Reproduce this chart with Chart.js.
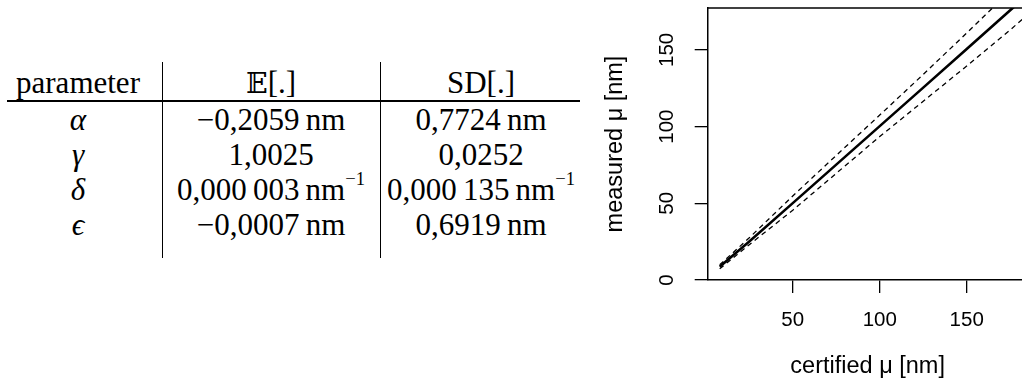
<!DOCTYPE html>
<html>
<head>
<meta charset="utf-8">
<script src="https://cdn.jsdelivr.net/npm/chart.js@4"></script>
<style>
  html, body { margin: 0; padding: 0; background: #fff; overflow: hidden; width: 1022px; height: 385px; }
  #tbl { position: absolute; left: 0; top: 0; width: 590px; height: 385px; }
  .c { position: absolute; transform: translate(-50%, -50%); white-space: nowrap;
       font: 31px "Liberation Serif", "DejaVu Serif", serif; color: #000; }
  .c i { font-style: italic; }
  .c sup { font-size: 0.6em; position: relative; top: -0.2em; }
  .hr { position: absolute; left: 7px; top: 100px; width: 573px; height: 1.5px; background: #000; }
  .vr { position: absolute; top: 62px; width: 1px; height: 196px; background: #000; }
  #wrap { position: absolute; left: 590px; top: 0; width: 440px; height: 385px; }
</style>
</head>
<body>
<div id="tbl">
  <div class="hr"></div>
  <div class="vr" style="left:162px"></div>
  <div class="vr" style="left:380px"></div>
</div>
<div id="wrap"><canvas id="myChart" width="440" height="385"></canvas></div>
<script>
// table content
const headers = ['parameter', '<span style="font-family:\'DejaVu Serif\',serif;font-size:0.92em">𝔼</span>[.]', 'SD[.]']
const params = ['α', 'γ', 'δ', 'ϵ']
const expected = ['−0,2059\u2009nm', '1,0025', '0,000\u2009003\u2009nm<sup>−1</sup>', '−0,0007\u2009nm']
const sds = ['0,7724\u2009nm', '0,0252', '0,000\u2009135\u2009nm<sup>−1</sup>', '0,6919\u2009nm']

// chart data
const certified = [8, 25, 50, 75, 100, 125, 150, 175, 185]
const measured = [8.7, 25.1, 50.1, 75.2, 100.3, 125.4, 150.6, 175.8, 186]
const upper = [9.9, 27.5, 54.8, 81.2, 107.5, 134, 161, 188.5, 199.5]
const lower = [7.3, 23, 45.5, 69.5, 93.5, 116.5, 139.5, 163, 173]

const colX = [78, 271, 481]
const rowY = [83, 120, 155, 190, 225]

const tbl = document.getElementById('tbl')
const cell = (html, x, y) => {
    const d = document.createElement('div')
    d.className = 'c'
    d.style.left = x + 'px'
    d.style.top = y + 'px'
    d.innerHTML = html
    tbl.appendChild(d)
}
headers.forEach((h, i) => cell(h, colX[i], rowY[0]))
params.forEach((p, i) => {
    cell('<i>' + p + '</i>', colX[0], rowY[i + 1])
    cell(expected[i], colX[1], rowY[i + 1])
    cell(sds[i], colX[2], rowY[i + 1])
})

const pts = ys => certified.map((x, i) => ({ x: x, y: ys[i] }))

// box top line (right side is cut off by the window)
const boxTop = {
    id: 'boxTop',
    afterDraw(chart) {
        const { ctx, chartArea } = chart
        ctx.save()
        ctx.strokeStyle = '#000'
        ctx.lineWidth = 1.5
        ctx.beginPath()
        ctx.moveTo(chartArea.left, chartArea.top)
        ctx.lineTo(chartArea.right, chartArea.top)
        ctx.stroke()
        ctx.restore()
    }
}

const axisFont = { family: '"Liberation Sans", Arial, sans-serif', size: 20.5 }
const titleFont = { family: '"Liberation Sans", Arial, sans-serif', size: 23.5 }

new Chart(document.getElementById('myChart').getContext('2d'), {
    type: 'line',
    data: {
        datasets: [
            { data: pts(upper), borderColor: '#000', borderWidth: 1.3, borderDash: [5, 4], pointRadius: 0, tension: 0 },
            { data: pts(lower), borderColor: '#000', borderWidth: 1.3, borderDash: [5, 4], pointRadius: 0, tension: 0 },
            { data: pts(measured), borderColor: '#000', borderWidth: 2.6, pointRadius: 0, tension: 0 }
        ]
    },
    options: {
        responsive: false,
        animation: false,
        clip: true,
        layout: { padding: { top: 8, right: 2.4, left: 0, bottom: 0 } },
        plugins: { legend: { display: false }, tooltip: { enabled: false } },
        scales: {
            x: {
                type: 'linear',
                min: 1.1,
                max: 185,
                afterFit: s => { s.height = 105; s.paddingLeft = 0; s.paddingRight = 0 },
                ticks: { stepSize: 50, includeBounds: false, color: '#000', font: axisFont, padding: 15, maxRotation: 0 },
                grid: { drawOnChartArea: false, color: '#000', lineWidth: 1.3, tickLength: 13 },
                border: { color: '#000', width: 1.5 },
                title: { display: true, text: 'certified μ [nm]', color: '#000', font: titleFont, padding: { top: 0, bottom: 4 } }
            },
            y: {
                min: 0,
                max: 177.3,
                afterFit: s => { s.width = 117.7; s.paddingTop = 0; s.paddingBottom = 0 },
                ticks: { stepSize: 50, includeBounds: false, color: '#000', font: axisFont, padding: 10, minRotation: 90, maxRotation: 90, crossAlign: 'center' },
                grid: { drawOnChartArea: false, color: '#000', lineWidth: 1.3, tickLength: 13 },
                border: { color: '#000', width: 1.5 },
                title: { display: true, text: 'measured μ [nm]', color: '#000', font: titleFont, padding: { top: 11, bottom: 0 } }
            }
        }
    },
    plugins: [boxTop]
})
</script>
</body>
</html>
